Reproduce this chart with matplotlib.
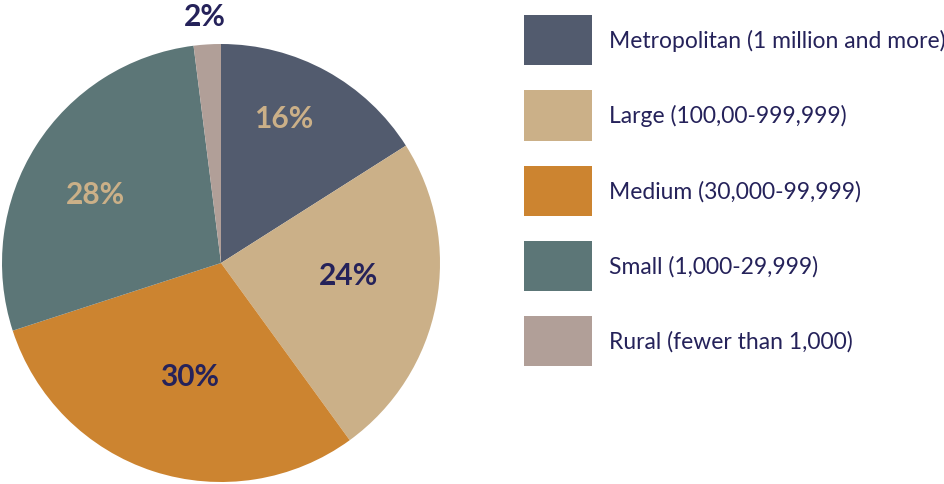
import matplotlib
matplotlib.use("Agg")
import matplotlib.pyplot as plt

# community size shares
categories = ["Metropolitan (1 million and more)", "Large (100,00-999,999)",
              "Medium (30,000-99,999)", "Small (1,000-29,999)",
              "Rural (fewer than 1,000)"]
shares = [16, 24, 30, 28, 2]
labels = ["16%", "24%", "30%", "28%", "2%"]

colors = ["#525b6e", "#cbb088", "#cc8430", "#5c7677", "#b19f98"]
label_colors = ["#cbb088", "#25225a", "#25225a", "#cbb088", "#25225a"]
# label spots, in units of the pie radius
label_x = [0.288, 0.584, -0.142, -0.575, -0.075]
label_y = [0.664, -0.055, -0.514, 0.317, 1.126]
navy = "#25225a"

plt.rcParams['font.family'] = ['Lato', 'DejaVu Sans']

fig = plt.figure(figsize=(9.45, 4.85), dpi=100)
ax = fig.add_axes([2 / 945, 2 / 485, 438 / 945, 438 / 485])

wedges, _ = ax.pie(shares, colors=colors, startangle=90, counterclock=False,
                   radius=1, wedgeprops=dict(linewidth=0))
ax.set_xlim(-1, 1)
ax.set_ylim(-1, 1)

for x, y, lab, c in zip(label_x, label_y, labels, label_colors):
    ax.text(x, y, lab, ha="center", va="center", fontsize=21.5,
            fontweight="bold", color=c, clip_on=False)

fs = 16.5
leg = fig.legend(wedges, categories, loc="upper left",
                 bbox_to_anchor=(524 / 945, 1 - 16 / 485),
                 frameon=False, fontsize=fs, borderpad=0, borderaxespad=0,
                 handlelength=2.97, handleheight=3.0, labelspacing=1.09,
                 handletextpad=0.74)
for t in leg.get_texts():
    t.set_color(navy)

fig.savefig("out.png", dpi=100)
